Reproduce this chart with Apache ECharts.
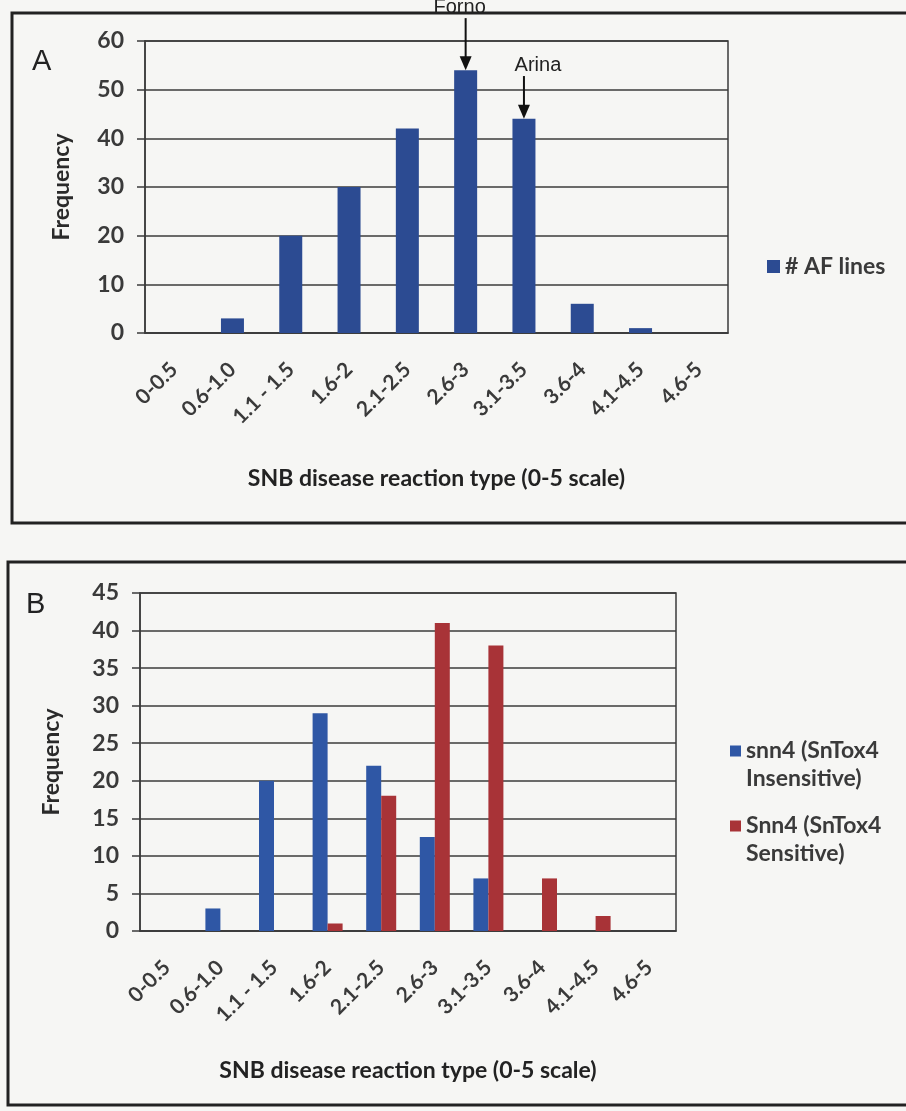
<!DOCTYPE html>
<html>
<head>
<meta charset="utf-8">
<script src="https://cdn.jsdelivr.net/npm/echarts@6/dist/echarts.min.js"></script>
<style>
html,body{margin:0;padding:0;background:#f6f6f4;}
#chart{width:906px;height:1111px;}
</style>
</head>
<body>
<div id="chart"></div>
<script>
// ---- data ----
const categories = ['0-0.5', '0.6-1.0', '1.1 - 1.5', '1.6-2', '2.1-2.5', '2.6-3', '3.1-3.5', '3.6-4', '4.1-4.5', '4.6-5'];
const afLines = [0, 3, 20, 30, 42, 54, 44, 6, 1, 0];
const snn4Insensitive = [0, 3, 20, 29, 22, 12.5, 7, 0, 0, 0];
const snn4Sensitive = [0, 0, 0, 1, 18, 41, 38, 7, 2, 0];
const ticksA = [0, 10, 20, 30, 40, 50, 60];
const ticksB = [0, 5, 10, 15, 20, 25, 30, 35, 40, 45];
// annotations: [label, category, arrow start value, arrow tip value]
const annotations = [
  ['Forno', '2.6-3', 64.7, 54],
  ['Arina', '3.1-3.5', 52.8, 44]
];
const seriesNames = ['# AF lines', 'snn4 (SnTox4\nInsensitive)', 'Snn4 (SnTox4\nSensitive)'];
const xTitle = 'SNB disease reaction type (0-5 scale)';
const yTitle = 'Frequency';

// ---- styles ----
const FONT = 'Lato, "Open Sans", sans-serif';
const TXT = '#3a3a3a';
const LINE = '#3b3b3b';
const BLUE_A = '#2c4b92';
const BLUE_B = '#2f57a5';
const RED_B = '#a83337';
// legend icon: square at the top of a tall box so it lines up with the first text line
const ICON_TOP_SQUARE = 'path://M0,0H11V11H0Z M0,39L0.01,39';

const chart = echarts.init(document.getElementById('chart'), null, {renderer: 'canvas'});

function yAxisCfg(gridIndex, ticks, nameGap) {
  return {
    type: 'value', gridIndex: gridIndex,
    min: ticks[0], max: ticks[ticks.length - 1], interval: ticks[1] - ticks[0],
    name: yTitle, nameLocation: 'middle', nameGap: nameGap, nameRotate: 90,
    nameTextStyle: {fontFamily: FONT, fontWeight: 'bold', fontSize: 23, color: '#2a2a2a'},
    axisLine: {show: true, lineStyle: {color: LINE, width: 1.5}},
    axisTick: {show: true, length: 8, lineStyle: {color: LINE, width: 1.5}},
    axisLabel: {margin: 21, fontFamily: FONT, fontWeight: 'bold', fontSize: 23, color: TXT},
    splitLine: {show: true, lineStyle: {color: LINE, width: 1.5}}
  };
}
function xAxisCfg(gridIndex, nameGap) {
  return {
    type: 'category', gridIndex: gridIndex, data: categories,
    name: xTitle, nameLocation: 'middle', nameGap: nameGap,
    nameTextStyle: {fontFamily: FONT, fontWeight: 'bold', fontSize: 23, color: '#222'},
    axisLine: {show: true, lineStyle: {color: LINE, width: 1.5}},
    axisTick: {show: false},
    axisLabel: {interval: 0, rotate: 45, margin: 33, fontFamily: FONT, fontWeight: 'bold', fontSize: 21, color: TXT}
  };
}

const option = {
  backgroundColor: '#f6f6f4',
  animation: false,
  grid: [
    {left: 145, top: 41, width: 583, height: 292, show: true, borderColor: LINE, borderWidth: 1.5, backgroundColor: 'transparent'},
    {left: 140, top: 593, width: 536, height: 338, show: true, borderColor: LINE, borderWidth: 1.5, backgroundColor: 'transparent'}
  ],
  xAxis: [xAxisCfg(0, 134), xAxisCfg(1, 128)],
  yAxis: [yAxisCfg(0, ticksA, 72), yAxisCfg(1, ticksB, 77)],
  legend: [
    {
      data: [seriesNames[0]], left: 762, top: 250, orient: 'vertical',
      itemWidth: 13, itemHeight: 13, itemGap: 6, icon: 'rect',
      textStyle: {fontFamily: FONT, fontSize: 23, fontWeight: 'bold', color: TXT}
    },
    {
      data: [seriesNames[1], seriesNames[2]], left: 725, top: 732, orient: 'vertical',
      itemWidth: 11, itemHeight: 39, itemGap: 19, icon: ICON_TOP_SQUARE,
      textStyle: {fontFamily: FONT, fontSize: 23, fontWeight: 'bold', color: TXT, lineHeight: 28}
    }
  ],
  graphic: [
    {type: 'rect', shape: {x: 12, y: 13, width: 920, height: 510}, style: {fill: 'none', stroke: '#222', lineWidth: 3}, silent: true},
    {type: 'rect', shape: {x: 8, y: 562, width: 920, height: 543}, style: {fill: 'none', stroke: '#222', lineWidth: 3}, silent: true},
    {type: 'text', left: 32, top: 47, style: {text: 'A', fontFamily: 'Liberation Sans, Arial, sans-serif', fontSize: 29, fill: '#222'}},
    {type: 'text', left: 26, top: 590, style: {text: 'B', fontFamily: 'Liberation Sans, Arial, sans-serif', fontSize: 29, fill: '#222'}}
  ],
  series: [
    {
      name: seriesNames[0], type: 'bar', xAxisIndex: 0, yAxisIndex: 0, data: afLines,
      barWidth: 23, itemStyle: {color: BLUE_A}
    },
    {
      type: 'custom', xAxisIndex: 0, yAxisIndex: 0, data: annotations, clip: false, silent: true, z: 10,
      encode: {x: 1, y: 2},
      renderItem: function (params, api) {
        const a = annotations[params.dataIndex];
        const p0 = api.coord([a[1], a[2]]);
        const p1 = api.coord([a[1], a[3]]);
        const headH = 14, headW = 12;
        const isArina = a[0] === 'Arina';
        return {
          type: 'group',
          children: [
            {type: 'line', shape: {x1: p0[0], y1: p0[1], x2: p1[0], y2: p1[1] - headH + 1}, style: {stroke: '#111', lineWidth: 2}},
            {type: 'polygon', shape: {points: [[p1[0] - headW / 2, p1[1] - headH], [p1[0] + headW / 2, p1[1] - headH], [p1[0], p1[1]]]}, style: {fill: '#111'}},
            {type: 'text', x: p0[0] + (isArina ? 14 : -6), y: p0[1] - 1,
              style: {text: a[0], fontFamily: 'Liberation Sans, Arial, sans-serif', fontSize: 20, fill: '#222', align: 'center', verticalAlign: 'bottom'}}
          ]
        };
      }
    },
    {
      name: seriesNames[1], type: 'bar', xAxisIndex: 1, yAxisIndex: 1, data: snn4Insensitive,
      barWidth: 15, barGap: '0%', itemStyle: {color: BLUE_B}
    },
    {
      name: seriesNames[2], type: 'bar', xAxisIndex: 1, yAxisIndex: 1, data: snn4Sensitive,
      barWidth: 15, barGap: '0%', itemStyle: {color: RED_B}
    }
  ]
};
chart.setOption(option);
</script>
</body>
</html>
